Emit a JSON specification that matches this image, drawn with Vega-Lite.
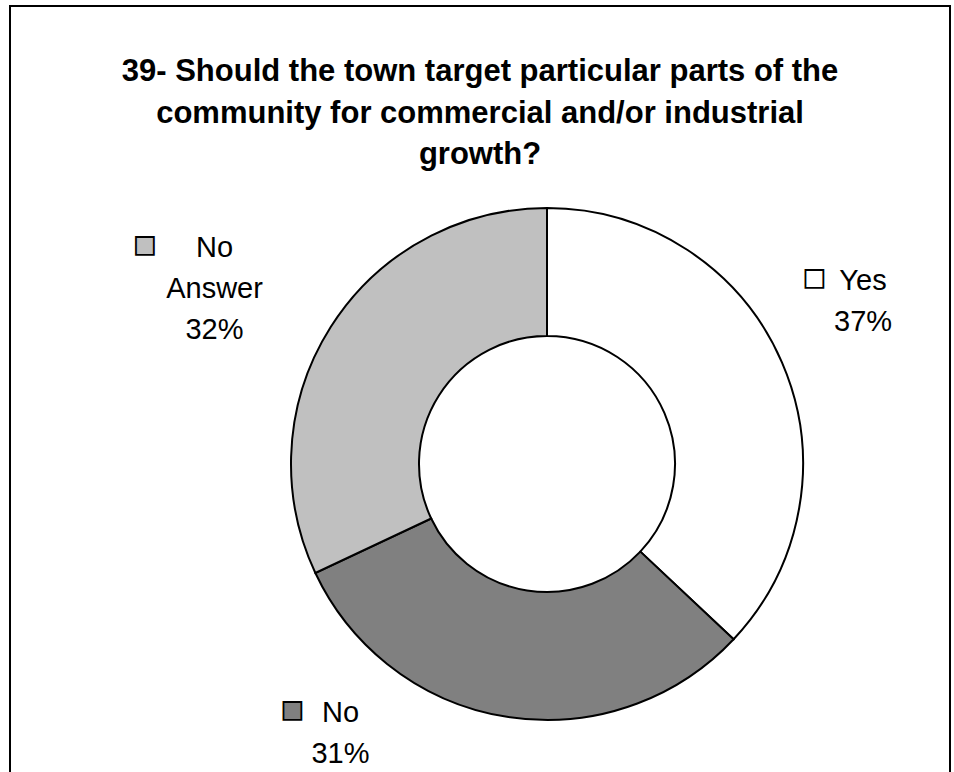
{
  "$schema": "https://vega.github.io/schema/vega-lite/v6.json",
  "autosize": {"type": "none"},
  "width": 940,
  "height": 775,
  "padding": {"left": 10, "top": 6, "right": 4, "bottom": 0},
  "background": "white",
  "view": {"stroke": "black", "strokeWidth": 2, "fill": "white"},
  "config": {
    "view": {"stroke": "black", "strokeWidth": 2},
    "font": "Liberation Sans"
  },
  "title": {
    "text": ["39- Should the town target particular parts of the", "community for commercial and/or industrial", "growth?"],
    "anchor": "middle",
    "frame": "group",
    "orient": "top",
    "font": "Liberation Sans",
    "fontSize": 31,
    "fontWeight": "bold",
    "color": "black",
    "lineHeight": 41.5,
    "baseline": "alphabetic",
    "offset": 0,
    "dy": 189
  },
  "data": {
    "values": [
      {"category": "Yes", "value": 37, "i": 1},
      {"category": "No", "value": 31, "i": 2},
      {"category": "No Answer", "value": 32, "i": 3}
    ]
  },
  "transform": [
    {"stack": "value", "groupby": [], "sort": [{"field": "i", "order": "ascending"}], "as": ["v0", "v1"]},
    {"calculate": "(datum.v0 + datum.v1) / 2", "as": "mid"},
    {"calculate": "replace(datum.category, ' ', '\\n') + '\\n' + datum.value + '%'", "as": "label"}
  ],
  "layer": [
    {
      "mark": {"type": "arc", "radius": 256, "radius2": 128, "stroke": "black", "strokeWidth": 2, "x": 537, "y": 458},
      "encoding": {
        "theta": {"field": "v0", "type": "quantitative", "scale": {"domain": [0, 100], "nice": false}},
        "theta2": {"field": "v1"},
        "color": {
          "field": "category",
          "type": "nominal",
          "scale": {"domain": ["Yes", "No", "No Answer"], "range": ["#FFFFFF", "#808080", "#C0C0C0"]},
          "legend": null
        }
      }
    },
    {
      "transform": [{"filter": "datum.category == 'Yes'"}],
      "mark": {"type": "text", "radius": 300, "x": 537, "y": 458, "dx": 40.7, "dy": -54.9, "align": "center", "baseline": "alphabetic", "fontSize": 29, "lineHeight": 41, "lineBreak": "\n", "color": "black"},
      "encoding": {"theta": {"field": "mid", "type": "quantitative"}, "text": {"field": "label"}}
    },
    {
      "transform": [{"filter": "datum.category == 'No'"}],
      "mark": {"type": "text", "radius": 300, "x": 537, "y": 458, "dx": -159.6, "dy": -38.6, "align": "center", "baseline": "alphabetic", "fontSize": 29, "lineHeight": 41, "lineBreak": "\n", "color": "black"},
      "encoding": {"theta": {"field": "mid", "type": "quantitative"}, "text": {"field": "label"}}
    },
    {
      "transform": [{"filter": "datum.category == 'No Answer'"}],
      "mark": {"type": "text", "radius": 300, "x": 537, "y": 458, "dx": -79.2, "dy": -46.6, "align": "center", "baseline": "alphabetic", "fontSize": 29, "lineHeight": 41, "lineBreak": "\n", "color": "black"},
      "encoding": {"theta": {"field": "mid", "type": "quantitative"}, "text": {"field": "label"}}
    },
    {
      "transform": [{"filter": "datum.category == 'Yes'"}],
      "mark": {"type": "text", "radius": 300, "x": 537, "y": 458, "dx": -7.8, "dy": -65.4, "align": "center", "baseline": "middle", "fontSize": 37, "text": "■", "stroke": "black", "strokeWidth": 1.8},
      "encoding": {"theta": {"field": "mid", "type": "quantitative"}, "color": {"field": "category", "type": "nominal", "legend": null}}
    },
    {
      "transform": [{"filter": "datum.category == 'No'"}],
      "mark": {"type": "text", "radius": 300, "x": 537, "y": 458, "dx": -207.6, "dy": -49.3, "align": "center", "baseline": "middle", "fontSize": 37, "text": "■", "stroke": "black", "strokeWidth": 1.8},
      "encoding": {"theta": {"field": "mid", "type": "quantitative"}, "color": {"field": "category", "type": "nominal", "legend": null}}
    },
    {
      "transform": [{"filter": "datum.category == 'No Answer'"}],
      "mark": {"type": "text", "radius": 300, "x": 537, "y": 458, "dx": -148.7, "dy": -57.3, "align": "center", "baseline": "middle", "fontSize": 37, "text": "■", "stroke": "black", "strokeWidth": 1.8},
      "encoding": {"theta": {"field": "mid", "type": "quantitative"}, "color": {"field": "category", "type": "nominal", "legend": null}}
    }
  ]
}
